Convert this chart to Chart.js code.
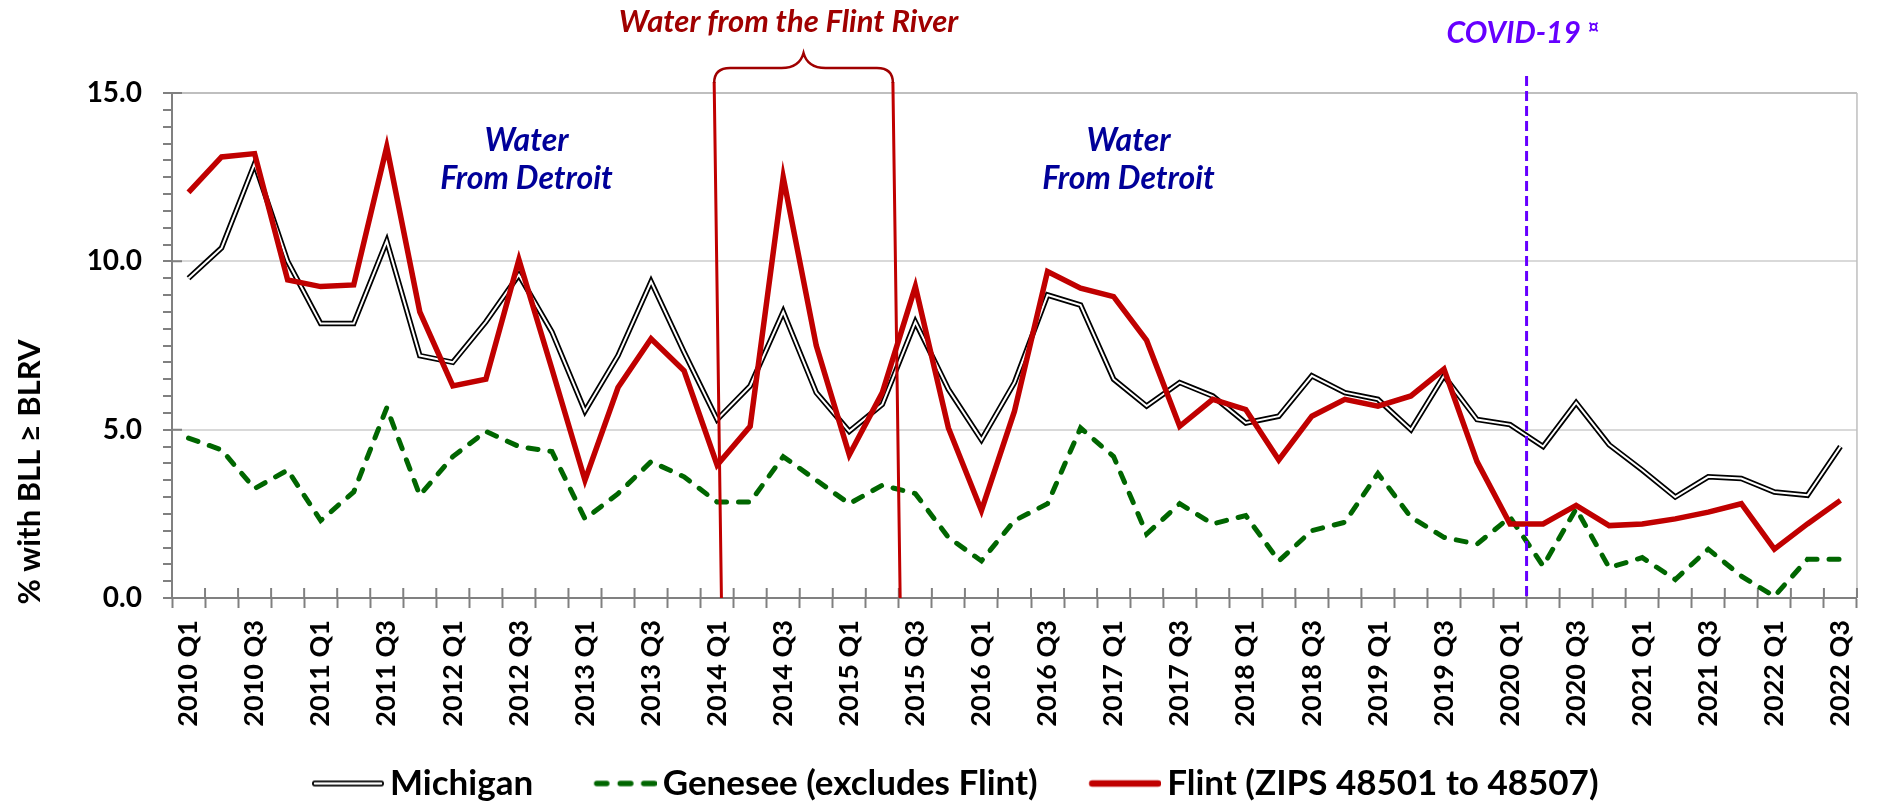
<!DOCTYPE html>
<html>
<head>
<meta charset="utf-8">
<script src="https://cdn.jsdelivr.net/npm/chart.js@4.4.1/dist/chart.umd.min.js"></script>
<style>
  html, body { margin: 0; padding: 0; background: #fff; }
  #wrap { width: 1885px; height: 804px; position: relative; }
</style>
</head>
<body>
<div id="wrap"><canvas id="chart"></canvas></div>
<script>
// % of kids with BLL >= BLRV, quarterly 2010 Q1 - 2022 Q3

const quarters = [
  '2010 Q1', '2010 Q2', '2010 Q3', '2010 Q4',
  '2011 Q1', '2011 Q2', '2011 Q3', '2011 Q4',
  '2012 Q1', '2012 Q2', '2012 Q3', '2012 Q4',
  '2013 Q1', '2013 Q2', '2013 Q3', '2013 Q4',
  '2014 Q1', '2014 Q2', '2014 Q3', '2014 Q4',
  '2015 Q1', '2015 Q2', '2015 Q3', '2015 Q4',
  '2016 Q1', '2016 Q2', '2016 Q3', '2016 Q4',
  '2017 Q1', '2017 Q2', '2017 Q3', '2017 Q4',
  '2018 Q1', '2018 Q2', '2018 Q3', '2018 Q4',
  '2019 Q1', '2019 Q2', '2019 Q3', '2019 Q4',
  '2020 Q1', '2020 Q2', '2020 Q3', '2020 Q4',
  '2021 Q1', '2021 Q2', '2021 Q3', '2021 Q4',
  '2022 Q1', '2022 Q2', '2022 Q3'
];

const michigan = [
  9.5, 10.4, 12.9, 10.0, 8.15, 8.15, 10.6, 7.2, 7.0, 8.2, 9.6, 7.9,
  5.55, 7.2, 9.4, 7.3, 5.3, 6.3, 8.5, 6.1, 4.95, 5.75, 8.2, 6.2,
  4.7, 6.4, 9.0, 8.7, 6.5, 5.7, 6.4, 6.0, 5.2, 5.4, 6.6, 6.1,
  5.9, 5.0, 6.6, 5.3, 5.15, 4.5, 5.8, 4.55, 3.8, 3.0, 3.6, 3.55,
  3.15, 3.05, 4.5
];

const genesee = [
  4.75, 4.4, 3.25, 3.8, 2.3, 3.15, 5.65, 3.05, 4.2, 4.95, 4.5, 4.35,
  2.35, 3.1, 4.05, 3.6, 2.85, 2.85, 4.2, 3.5, 2.8, 3.35, 3.1, 1.8,
  1.1, 2.3, 2.8, 5.05, 4.2, 1.9, 2.8, 2.2, 2.45, 1.1, 2.0, 2.25,
  3.7, 2.4, 1.8, 1.6, 2.4, 0.95, 2.65, 0.9, 1.2, 0.55, 1.45, 0.65,
  0.05, 1.15, 1.15
];

const flint = [
  12.05, 13.1, 13.2, 9.45, 9.25, 9.3, 13.4, 8.5, 6.3, 6.5, 10.05, 6.8,
  3.5, 6.25, 7.7, 6.75, 3.95, 5.1, 12.5, 7.5, 4.25, 6.1, 9.25, 5.05,
  2.6, 5.55, 9.7, 9.2, 8.95, 7.65, 5.1, 5.9, 5.6, 4.1, 5.4, 5.9,
  5.7, 6.0, 6.8, 4.05, 2.2, 2.2, 2.75, 2.15, 2.2, 2.35, 2.55, 2.8,
  1.45, 2.2, 2.9
];

const yLabelled = [0, 5, 10, 15];

const FONT = 'Lato';
const RED = '#c00000';
const GREEN = '#006600';

// legend samples (drawn as point style images), sample sits at the right end
function sample(draw) {
  const c = document.createElement('canvas');
  c.width = 125;
  c.height = 16;
  const g = c.getContext('2d');
  g.lineCap = 'round';
  draw(g);
  return c;
}

const michiganSample = sample(g => {
  g.strokeStyle = '#000';
  g.lineWidth = 6;
  g.beginPath(); g.moveTo(56, 8); g.lineTo(122, 8); g.stroke();
  g.strokeStyle = '#fff';
  g.lineWidth = 2.5;
  g.beginPath(); g.moveTo(56, 8); g.lineTo(122, 8); g.stroke();
});

const geneseeSample = sample(g => {
  g.strokeStyle = GREEN;
  g.lineWidth = 5.5;
  [[65, 75], [88.5, 99], [112, 122.5]].forEach(d => {
    g.beginPath(); g.moveTo(d[0], 8); g.lineTo(d[1], 8); g.stroke();
  });
});

const flintSample = sample(g => {
  g.strokeStyle = RED;
  g.lineWidth = 6.5;
  g.beginPath(); g.moveTo(56, 8); g.lineTo(122, 8); g.stroke();
});

// axis ticks, border, annotations
const decor = {
  id: 'decor',
  beforeDatasetsDraw(chart) {
    const {ctx, chartArea: a, scales: {x, y}} = chart;
    ctx.save();
    ctx.strokeStyle = '#bfbfbf';
    ctx.lineWidth = 1.5;
    ctx.beginPath();
    ctx.moveTo(a.right, a.top);
    ctx.lineTo(a.right, a.bottom);
    ctx.stroke();

    ctx.strokeStyle = '#808080';
    ctx.lineWidth = 2;
    ctx.beginPath();
    for (let i = 0; i <= quarters.length; i++) {
      const px = x.getPixelForValue(i - 0.5);
      ctx.moveTo(px, a.bottom);
      ctx.lineTo(px, a.bottom - 10);
    }
    yLabelled.forEach(v => {
      const py = y.getPixelForValue(v);
      ctx.moveTo(a.left, py);
      ctx.lineTo(a.left + 10, py);
    });
    ctx.stroke();
    ctx.restore();
  },
  afterDatasetsDraw(chart) {
    const {ctx, chartArea: a, scales: {x, y}} = chart;
    ctx.save();

    // Flint river period
    const L = x.getPixelForValue(15.91);
    const R = x.getPixelForValue(21.32);
    const M = (L + R) / 2;
    ctx.strokeStyle = RED;
    ctx.lineWidth = 3;
    ctx.beginPath();
    ctx.moveTo(L, 82);
    ctx.lineTo(x.getPixelForValue(16.13), a.bottom);
    ctx.moveTo(R, 82);
    ctx.lineTo(x.getPixelForValue(21.54), a.bottom);
    ctx.stroke();

    ctx.strokeStyle = '#a00000';
    ctx.lineWidth = 2.5;
    ctx.beginPath();
    ctx.moveTo(L, 83);
    ctx.quadraticCurveTo(L, 68, L + 16, 68);
    ctx.lineTo(M - 22, 68);
    ctx.quadraticCurveTo(M - 4, 68, M, 53);
    ctx.quadraticCurveTo(M + 4, 68, M + 22, 68);
    ctx.lineTo(R - 16, 68);
    ctx.quadraticCurveTo(R, 68, R, 83);
    ctx.stroke();

    ctx.fillStyle = '#a00000';
    ctx.font = `italic bold 31px ${FONT}`;
    ctx.textAlign = 'center';
    ctx.textBaseline = 'alphabetic';
    ctx.fillText('Water from the Flint River', M - 15, 32);

    // Detroit water notes
    ctx.fillStyle = '#000099';
    ctx.font = `italic bold 32px ${FONT}`;
    [10.23, 28.45].forEach(v => {
      const cx = x.getPixelForValue(v);
      ctx.fillText('Water', cx, y.getPixelForValue(13.27));
      ctx.fillText('From Detroit', cx, y.getPixelForValue(12.16));
    });

    // covid marker
    const cv = x.getPixelForValue(40.5);
    ctx.strokeStyle = '#6600ff';
    ctx.lineWidth = 3;
    ctx.setLineDash([10, 5]);
    ctx.beginPath();
    ctx.moveTo(cv, 76);
    ctx.lineTo(cv, a.bottom);
    ctx.stroke();
    ctx.setLineDash([]);

    ctx.fillStyle = '#6600ff';
    ctx.textAlign = 'left';
    ctx.font = `italic bold 30px ${FONT}`;
    const covidLeft = cv - 80;
    ctx.fillText('COVID-19', covidLeft, 43);
    const covidEnd = covidLeft + ctx.measureText('COVID-19').width;
    ctx.font = `bold 20px ${FONT}`;
    ctx.fillText('¤', covidEnd + 7, 34);

    ctx.restore();
  },
  afterDraw(chart) {
    const {ctx} = chart;
    ctx.save();
    ctx.translate(40, 472);
    ctx.rotate(-Math.PI / 2);
    ctx.fillStyle = '#000';
    ctx.font = `bold 31px ${FONT}`;
    ctx.textAlign = 'center';
    ctx.textBaseline = 'alphabetic';
    ctx.fillText('% with BLL \u2265 BLRV', 0, 0);
    ctx.restore();
  }
};

const legendItems = [
  {text: 'Michigan', pointStyle: michiganSample},
  {text: 'Genesee (excludes Flint)', pointStyle: geneseeSample},
  {text: 'Flint (ZIPS 48501 to 48507)', pointStyle: flintSample}
];

new Chart(document.getElementById('chart'), {
  type: 'line',
  data: {
    labels: quarters,
    datasets: [
      {
        label: 'Michigan',
        data: michigan,
        borderColor: '#000',
        borderWidth: 5.5,
        order: 2
      },
      {
        label: 'Michigan inner',
        data: michigan,
        borderColor: '#fff',
        borderWidth: 2,
        order: 1
      },
      {
        label: 'Genesee (excludes Flint)',
        data: genesee,
        borderColor: GREEN,
        borderWidth: 5,
        borderDash: [10, 12],
        borderCapStyle: 'round',
        order: 3
      },
      {
        label: 'Flint (ZIPS 48501 to 48507)',
        data: flint,
        borderColor: RED,
        borderWidth: 5.5,
        order: 0
      }
    ]
  },
  options: {
    responsive: true,
    maintainAspectRatio: false,
    devicePixelRatio: 1,
    animation: false,
    layout: {padding: {top: 93, right: 16, left: 0, bottom: -7}},
    elements: {
      point: {radius: 0, hoverRadius: 0},
      line: {tension: 0, fill: false}
    },
    datasets: {line: {clip: 6}},
    plugins: {
      tooltip: {enabled: false},
      legend: {
        position: 'bottom',
        labels: {
          usePointStyle: true,
          pointStyleWidth: 102,
          padding: 10,
          color: '#000',
          font: {family: FONT, weight: 'bold', size: 35},
          generateLabels: () => legendItems.map((it, i) => ({
            text: it.text,
            pointStyle: it.pointStyle,
            fillStyle: 'transparent',
            strokeStyle: 'transparent',
            lineWidth: 0,
            hidden: false,
            datasetIndex: i
          }))
        }
      }
    },
    scales: {
      x: {
        offset: true,
        grid: {
          offset: true,
          drawOnChartArea: false,
          tickLength: 10,
          tickColor: '#808080',
          tickWidth: 2
        },
        border: {color: '#808080', width: 2},
        ticks: {
          autoSkip: false,
          minRotation: 90,
          maxRotation: 90,
          padding: 12,
          color: '#000',
          font: {family: FONT, weight: 'bold', size: 27},
          callback: (v, i) => (i % 2 === 0 ? quarters[i] : '')
        },
        afterFit: s => { s.height = 158; }
      },
      y: {
        min: 0,
        max: 15,
        grid: {
          lineWidth: 2,
          color: c => {
            const v = c.tick.value;
            if (v === 15) return '#bfbfbf';
            return (v > 0 && v % 5 === 0) ? '#d9d9d9' : 'rgba(0,0,0,0)';
          },
          tickLength: 9,
          tickColor: '#808080',
          tickWidth: 2
        },
        border: {color: '#808080', width: 2},
        ticks: {
          stepSize: 0.5,
          autoSkip: false,
          padding: 21,
          color: '#000',
          font: {family: FONT, weight: 'bold', size: 28},
          callback: v => (v % 5 === 0 ? v.toFixed(1) : '')
        },
        afterFit: s => { s.width = 172; }
      }
    }
  },
  plugins: [decor]
});
</script>
</body>
</html>
